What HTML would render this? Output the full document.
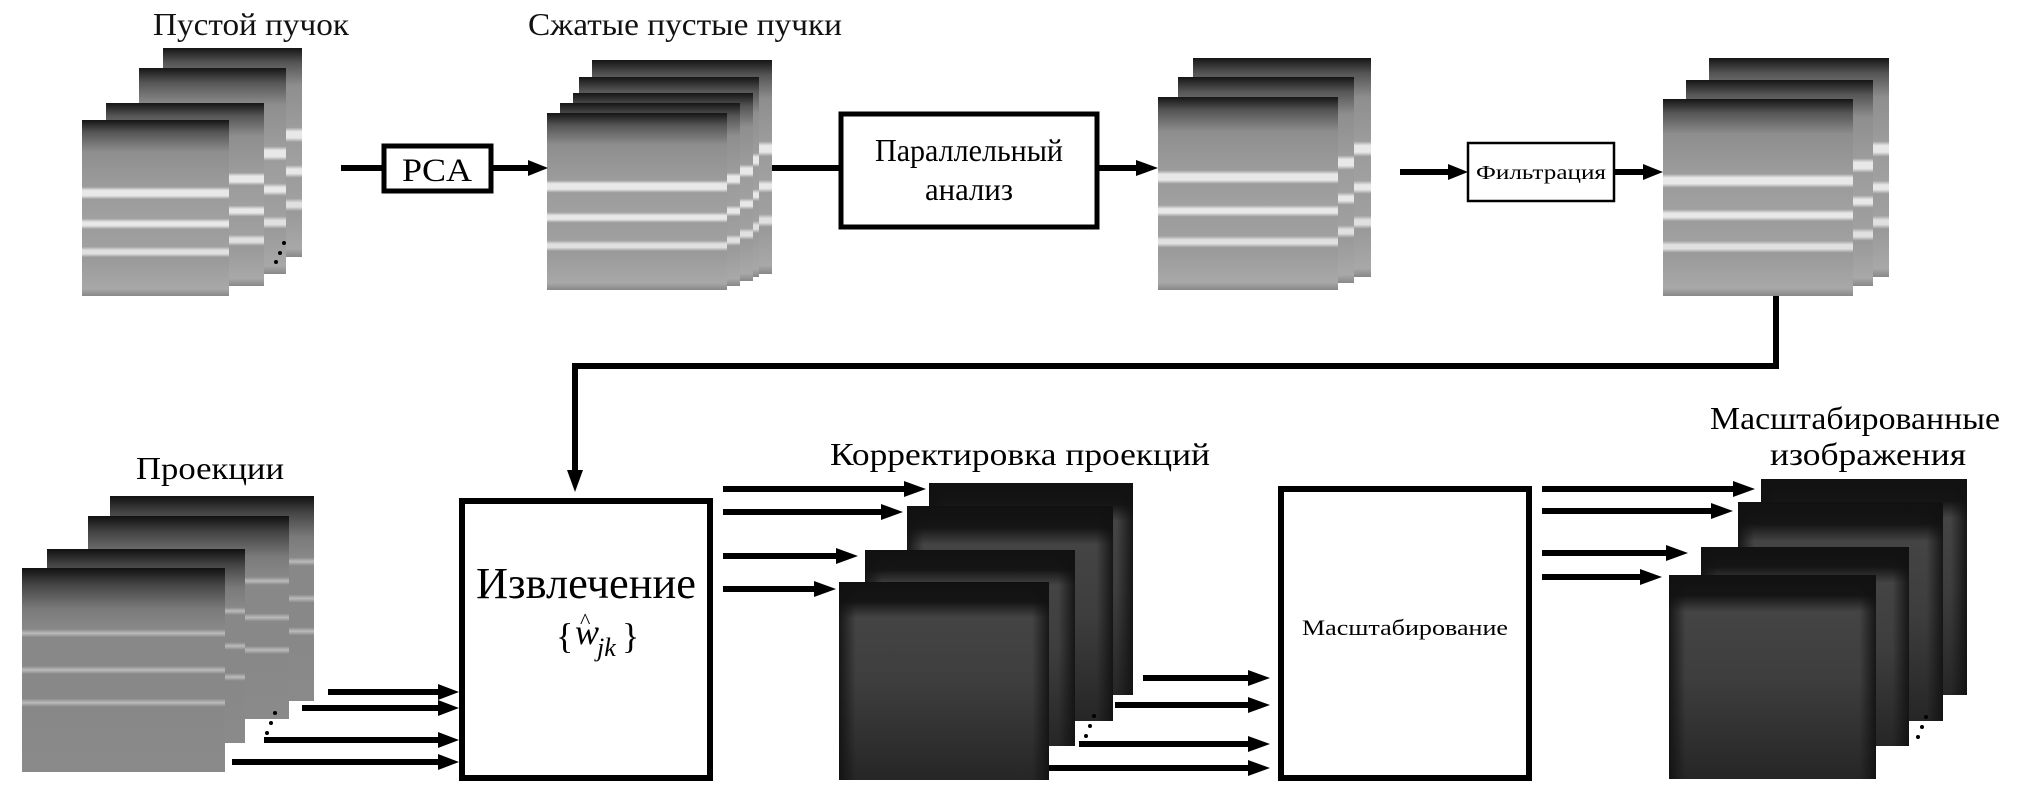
<!DOCTYPE html>
<html><head><meta charset="utf-8"><style>html,body{margin:0;padding:0;background:#fff}svg{display:block}</style></head><body>
<svg width="2018" height="792" viewBox="0 0 2018 792" xmlns="http://www.w3.org/2000/svg" font-family="'Liberation Serif',serif">
<defs>
<linearGradient id="gt" x1="0" y1="0" x2="0" y2="1">
<stop offset="0" stop-color="#151515"/><stop offset="0.07" stop-color="#555"/><stop offset="0.18" stop-color="#8e8e8e"/>
<stop offset="0.38" stop-color="#9c9c9c"/><stop offset="0.4" stop-color="#e8e8e8"/><stop offset="0.43" stop-color="#e8e8e8"/><stop offset="0.45" stop-color="#9c9c9c"/>
<stop offset="0.56" stop-color="#a0a0a0"/><stop offset="0.58" stop-color="#e8e8e8"/><stop offset="0.6" stop-color="#e8e8e8"/><stop offset="0.62" stop-color="#9c9c9c"/>
<stop offset="0.72" stop-color="#a0a0a0"/><stop offset="0.74" stop-color="#e0e0e0"/><stop offset="0.76" stop-color="#e0e0e0"/><stop offset="0.78" stop-color="#999"/>
<stop offset="0.96" stop-color="#a8a8a8"/><stop offset="1" stop-color="#888"/>
</linearGradient>
<linearGradient id="gp" x1="0" y1="0" x2="0" y2="1">
<stop offset="0" stop-color="#111"/><stop offset="0.08" stop-color="#444"/><stop offset="0.2" stop-color="#7a7a7a"/>
<stop offset="0.3" stop-color="#888"/><stop offset="0.32" stop-color="#bbb"/><stop offset="0.34" stop-color="#888"/>
<stop offset="0.48" stop-color="#888"/><stop offset="0.5" stop-color="#bbb"/><stop offset="0.52" stop-color="#888"/>
<stop offset="0.64" stop-color="#888"/><stop offset="0.66" stop-color="#bbb"/><stop offset="0.68" stop-color="#888"/>
<stop offset="1" stop-color="#8a8a8a"/>
</linearGradient>
<linearGradient id="gd" x1="0" y1="0" x2="0" y2="1">
<stop offset="0" stop-color="#111"/><stop offset="0.1" stop-color="#151515"/><stop offset="0.18" stop-color="#444"/>
<stop offset="0.5" stop-color="#3e3e3e"/><stop offset="1" stop-color="#262626"/>
</linearGradient>
<linearGradient id="gdh" x1="0" y1="0" x2="1" y2="0">
<stop offset="0" stop-color="#111" stop-opacity="0.9"/><stop offset="0.08" stop-color="#111" stop-opacity="0"/>
<stop offset="0.92" stop-color="#111" stop-opacity="0"/><stop offset="1" stop-color="#111" stop-opacity="0.9"/>
</linearGradient>
</defs>

<!-- Stack 1 -->
<g fill="url(#gt)">
<rect x="163" y="48" width="139" height="209"/><rect x="139" y="68" width="147" height="206"/>
<rect x="106" y="103" width="158" height="183"/><rect x="82" y="120" width="147" height="176"/>
</g>
<circle cx="284" cy="243" r="2" fill="#000"/><circle cx="280" cy="253" r="2" fill="#000"/><circle cx="276" cy="262" r="2" fill="#000"/>
<!-- Stack 2 -->
<g fill="url(#gt)">
<rect x="592" y="60" width="180" height="214"/><rect x="579" y="77" width="180" height="200"/>
<rect x="573" y="93" width="180" height="188"/><rect x="560" y="103" width="180" height="183"/>
<rect x="547" y="113" width="180" height="177"/>
</g>
<!-- Stack 3 -->
<g fill="url(#gt)">
<rect x="1193" y="58" width="178" height="219"/><rect x="1178" y="77" width="176" height="206"/><rect x="1158" y="97" width="180" height="193"/>
</g>
<!-- Stack 4 -->
<g fill="url(#gt)">
<rect x="1709" y="58" width="180" height="219"/><rect x="1686" y="80" width="187" height="206"/><rect x="1663" y="99" width="190" height="197"/>
</g>

<!-- top labels -->
<g font-size="32" text-anchor="middle" fill="#111">
<text x="251" y="35" textLength="196" lengthAdjust="spacingAndGlyphs">Пустой пучок</text>
<text x="685" y="35" textLength="314" lengthAdjust="spacingAndGlyphs">Сжатые пустые пучки</text>
</g>

<!-- PCA box -->
<rect x="384" y="146" width="107" height="45" fill="#fff" stroke="#000" stroke-width="5"/>
<text x="437" y="181" font-size="33" text-anchor="middle" textLength="70" lengthAdjust="spacingAndGlyphs">PCA</text>
<!-- Parallel box -->
<rect x="841" y="114" width="256" height="113" fill="#fff" stroke="#000" stroke-width="5"/>
<text x="969" y="161" font-size="32" text-anchor="middle" textLength="188" lengthAdjust="spacingAndGlyphs">Параллельный</text>
<text x="969" y="200" font-size="32" text-anchor="middle" textLength="88" lengthAdjust="spacingAndGlyphs">анализ</text>
<!-- Filter box -->
<rect x="1468" y="143" width="146" height="58" fill="#fff" stroke="#000" stroke-width="2.5"/>
<text x="1541" y="179" font-size="20" text-anchor="middle" textLength="130" lengthAdjust="spacingAndGlyphs">Фильтрация</text>

<!-- top connectors -->
<g stroke="#000" stroke-width="6" fill="none">
<line x1="341" y1="168" x2="384" y2="168"/>
<line x1="491" y1="168" x2="530" y2="168"/>
<line x1="772" y1="168" x2="841" y2="168"/>
<line x1="1097" y1="168" x2="1138" y2="168"/>
<line x1="1400" y1="172" x2="1450" y2="172"/>
<line x1="1614" y1="172" x2="1645" y2="172"/>
<polyline points="1776,296 1776,366 575,366 575,472"/>
</g>
<g fill="#000">
<polygon points="528,160 548,168 528,176"/>
<polygon points="1136,160 1158,168 1136,176"/>
<polygon points="1448,164 1468,172 1448,180"/>
<polygon points="1643,164 1663,172 1643,180"/>
<polygon points="567,470 575,492 583,470"/>
</g>

<!-- Bottom: Projections stack -->
<text x="210" y="479" font-size="32" text-anchor="middle" textLength="148" lengthAdjust="spacingAndGlyphs">Проекции</text>
<g fill="url(#gp)">
<rect x="110" y="496" width="204" height="205"/><rect x="88" y="516" width="201" height="203"/>
<rect x="47" y="549" width="198" height="194"/><rect x="22" y="568" width="203" height="204"/>
</g>
<circle cx="275" cy="713" r="2" fill="#000"/><circle cx="271" cy="723" r="2" fill="#000"/><circle cx="267" cy="733" r="2" fill="#000"/>

<!-- Extraction box -->
<rect x="462" y="501" width="248" height="277" fill="#fff" stroke="#000" stroke-width="6"/>
<text x="586" y="598" font-size="44" text-anchor="middle" textLength="220" lengthAdjust="spacingAndGlyphs">Извлечение</text>
<text x="556" y="648" font-size="36">{</text>
<text x="575" y="644" font-size="36" font-style="italic">w</text>
<text x="580" y="628" font-size="22">^</text>
<text x="597" y="656" font-size="26" font-style="italic">jk</text>
<text x="622" y="648" font-size="36">}</text>

<!-- arrows into extraction -->
<g stroke="#000" stroke-width="6">
<line x1="328" y1="692" x2="440" y2="692"/><line x1="302" y1="708" x2="440" y2="708"/>
<line x1="264" y1="740" x2="440" y2="740"/><line x1="232" y1="762" x2="440" y2="762"/>
</g>
<g fill="#000">
<polygon points="438,684 459,692 438,700"/><polygon points="438,700 459,708 438,716"/>
<polygon points="438,732 459,740 438,748"/><polygon points="438,754 459,762 438,770"/>
</g>

<!-- arrows out of extraction -->
<g stroke="#000" stroke-width="6">
<line x1="723" y1="489" x2="906" y2="489"/><line x1="723" y1="512" x2="883" y2="512"/>
<line x1="723" y1="556" x2="838" y2="556"/><line x1="723" y1="589" x2="816" y2="589"/>
</g>
<g fill="#000">
<polygon points="904,481 926,489 904,497"/><polygon points="881,504 903,512 881,520"/>
<polygon points="836,548 858,556 836,564"/><polygon points="814,581 836,589 814,597"/>
</g>

<!-- Correction stack -->
<text x="1020" y="465" font-size="32" text-anchor="middle" textLength="380" lengthAdjust="spacingAndGlyphs">Корректировка проекций</text>
<g>
<rect x="929" y="483" width="204" height="212" fill="url(#gd)"/><rect x="929" y="483" width="204" height="212" fill="url(#gdh)"/>
<rect x="907" y="506" width="206" height="215" fill="url(#gd)"/><rect x="907" y="506" width="206" height="215" fill="url(#gdh)"/>
<rect x="865" y="550" width="210" height="196" fill="url(#gd)"/><rect x="865" y="550" width="210" height="196" fill="url(#gdh)"/>
<rect x="839" y="582" width="210" height="198" fill="url(#gd)"/><rect x="839" y="582" width="210" height="198" fill="url(#gdh)"/>
</g>
<circle cx="1094" cy="716" r="2" fill="#000"/><circle cx="1090" cy="726" r="2" fill="#000"/><circle cx="1086" cy="736" r="2" fill="#000"/>

<!-- arrows into scaling -->
<g stroke="#000" stroke-width="6">
<line x1="1143" y1="678" x2="1250" y2="678"/><line x1="1115" y1="705" x2="1250" y2="705"/>
<line x1="1079" y1="744" x2="1250" y2="744"/><line x1="1049" y1="768" x2="1250" y2="768"/>
</g>
<g fill="#000">
<polygon points="1248,670 1270,678 1248,686"/><polygon points="1248,697 1270,705 1248,713"/>
<polygon points="1248,736 1270,744 1248,752"/><polygon points="1248,760 1270,768 1248,776"/>
</g>

<!-- Scaling box -->
<rect x="1281" y="489" width="248" height="289" fill="#fff" stroke="#000" stroke-width="6"/>
<text x="1405" y="635" font-size="22" text-anchor="middle" textLength="206" lengthAdjust="spacingAndGlyphs">Масштабирование</text>

<!-- arrows out of scaling -->
<g stroke="#000" stroke-width="6">
<line x1="1542" y1="489" x2="1735" y2="489"/><line x1="1542" y1="511" x2="1713" y2="511"/>
<line x1="1542" y1="553" x2="1668" y2="553"/><line x1="1542" y1="577" x2="1642" y2="577"/>
</g>
<g fill="#000">
<polygon points="1733,481 1755,489 1733,497"/><polygon points="1711,503 1733,511 1711,519"/>
<polygon points="1666,545 1688,553 1666,561"/><polygon points="1640,569 1662,577 1640,585"/>
</g>

<!-- Scaled images stack -->
<g font-size="32" text-anchor="middle">
<text x="1855" y="429" textLength="290" lengthAdjust="spacingAndGlyphs">Масштабированные</text>
<text x="1868" y="465" textLength="196" lengthAdjust="spacingAndGlyphs">изображения</text>
</g>
<g>
<rect x="1761" y="479" width="206" height="216" fill="url(#gd)"/><rect x="1761" y="479" width="206" height="216" fill="url(#gdh)"/>
<rect x="1738" y="502" width="205" height="219" fill="url(#gd)"/><rect x="1738" y="502" width="205" height="219" fill="url(#gdh)"/>
<rect x="1701" y="547" width="208" height="199" fill="url(#gd)"/><rect x="1701" y="547" width="208" height="199" fill="url(#gdh)"/>
<rect x="1669" y="575" width="207" height="204" fill="url(#gd)"/><rect x="1669" y="575" width="207" height="204" fill="url(#gdh)"/>
</g>
<circle cx="1926" cy="717" r="2" fill="#000"/><circle cx="1922" cy="727" r="2" fill="#000"/><circle cx="1918" cy="737" r="2" fill="#000"/>
</svg>
</body></html>
